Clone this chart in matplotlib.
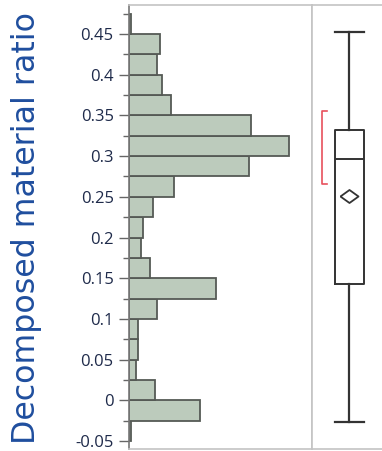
import numpy as np
import matplotlib
matplotlib.use("Agg")
import matplotlib.pyplot as plt

# histogram bins (lower edges) and counts, bottom to top
bin_edges = np.round(np.arange(-0.05, 0.4751, 0.025), 3)
counts = [1, 30, 11, 3, 4, 4, 12, 37, 9, 5, 6, 10, 19, 51, 68, 52, 18, 14, 12, 13, 1]

# outlier box plot summary
box_stats = {
    "whislo": -0.027,
    "q1": 0.143,
    "med": 0.297,
    "q3": 0.332,
    "whishi": 0.452,
    "mean": 0.251,
}
shortest_half = (0.2655, 0.356)

major_ticks = np.round(np.arange(-0.05, 0.451, 0.05), 2)
tick_labels = ["-0.05", "0", "0.05", "0.1", "0.15", "0.2", "0.25", "0.3", "0.35", "0.4", "0.45"]
y_label = "Decomposed material ratio"

frame_col = "#c4c4c4"
bar_face = "#bccbbc"
bar_edge = "#555a55"
line_col = "#333333"

fig = plt.figure(figsize=(3.82, 4.51), dpi=100)
ylim = (-0.0598, 0.4856)

ax = fig.add_axes([129 / 382, 2 / 451, 183 / 382, 444 / 451])
ax.barh(bin_edges[:-1], counts, height=0.025, align="edge",
        color=bar_face, edgecolor=bar_edge, linewidth=1.3)
ax.set_ylim(*ylim)
ax.set_xlim(0, 183 / 2.35)
ax.set_yticks(major_ticks)
ax.set_yticklabels(tick_labels)
ax.set_yticks(np.round(np.arange(-0.025, 0.4751, 0.05), 3), minor=True)
ax.tick_params(axis="y", which="major", length=7, width=1, color="#666666",
               labelsize=12, labelcolor="#1e2a4a", pad=4)
ax.tick_params(axis="y", which="minor", length=4, width=1, color="#666666")
ax.set_xticks([])
for s in ["top", "bottom", "right"]:
    ax.spines[s].set_color(frame_col)
    ax.spines[s].set_linewidth(1.2)
ax.spines["left"].set_color("#777777")
ax.spines["left"].set_linewidth(1.2)
for lab in ax.get_yticklabels():
    lab.set_fontfamily("Open Sans")

# box plot panel
bx = fig.add_axes([312 / 382, 2 / 451, 72 / 382, 444 / 451])
bx.set_ylim(*ylim)
bx.set_xlim(-37 / 35, 35 / 35)
box_w = 29 / 35
bx.bxp([dict(box_stats, fliers=[])], positions=[0], widths=box_w,
       capwidths=box_w, showmeans=True, meanline=False,
       boxprops=dict(color=line_col, linewidth=1.4),
       medianprops=dict(color=line_col, linewidth=1.4),
       whiskerprops=dict(color=line_col, linewidth=1.6),
       capprops=dict(color=line_col, linewidth=1.6),
       meanprops=dict(marker=[(-1, 0), (0, 0.72), (1, 0), (0, -0.72), (-1, 0)],
                      markersize=13, markerfacecolor="none",
                      markeredgecolor=line_col, markeredgewidth=1.3))
lo, hi = shortest_half
x0, x1 = -37 / 35 + 10 / 35, -37 / 35 + 14.5 / 35
bx.plot([x1, x0, x0, x1], [hi, hi, lo, lo], color="#e8505c", linewidth=1.2)
bx.set_xticks([])
bx.set_yticks([])
for s in ["top", "bottom", "left"]:
    bx.spines[s].set_color(frame_col)
    bx.spines[s].set_linewidth(1.2)
bx.spines["right"].set_visible(False)

fig.text(0.07, 0.4945, y_label, rotation=90, ha="center", va="center",
         fontsize=22.8, color="#1f4e9e", family="DejaVu Sans")

fig.savefig("out.png", dpi=100)
